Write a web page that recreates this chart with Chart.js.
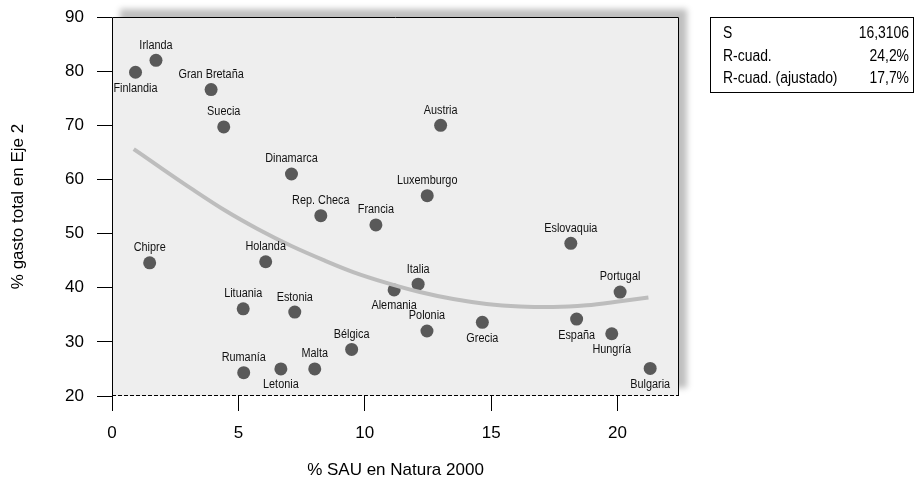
<!DOCTYPE html>
<html>
<head>
<meta charset="utf-8">
<script src="https://cdn.jsdelivr.net/npm/chart.js@4"></script>
<style>
  body { margin: 0; background: #fff; }
  canvas { display: block; }
</style>
</head>
<body>
<canvas id="chart" width="917" height="485"></canvas>
<script>
// datos: % SAU en Natura 2000 (x) y % gasto total en Eje 2 (y)
const countries = ["Finlandia", "Irlanda", "Gran Bretaña", "Suecia", "Dinamarca", "Austria",
  "Luxemburgo", "Rep. Checa", "Francia", "Eslovaquia", "Chipre", "Holanda", "Italia",
  "Alemania", "Portugal", "Lituania", "Estonia", "España", "Grecia", "Polonia", "Hungría",
  "Bélgica", "Bulgaria", "Rumanía", "Letonia", "Malta"];
const sauNatura = [0.93, 1.74, 3.92, 4.42, 7.1, 13.0, 12.47, 8.26, 10.44, 18.15, 1.49, 6.08, 12.11,
  11.16, 20.1, 5.19, 7.23, 18.38, 14.65, 12.46, 19.77, 9.48, 21.29, 5.21, 6.68, 8.02];
const gastoEje2 = [79.8, 82.0, 76.6, 69.7, 61.0, 70.0, 57.0, 53.3, 51.6, 48.2, 44.6, 44.8, 40.65,
  39.6, 39.2, 36.1, 35.5, 34.2, 33.6, 32.0, 31.5, 28.6, 25.1, 24.3, 25.0, 25.0];
// nombres que van debajo del punto
const labelBelow = ["Finlandia", "Alemania", "España", "Grecia", "Hungría", "Bulgaria", "Letonia"];

// curva de ajuste
const fitX = [0.86, 1.82, 3.14, 4.46, 5.78, 7.1, 8.42, 9.54, 10.86, 12.18, 13.5, 14.82, 16.14, 17.46, 18.78, 20.1, 21.22];
const fitY = [65.6, 62.5, 58.3, 54.3, 50.8, 47.7, 45.0, 42.9, 40.9, 39.2, 37.9, 37.0, 36.55, 36.45, 36.75, 37.5, 38.2];

const xTicks = [0, 5, 10, 15, 20];
const yTicks = [20, 30, 40, 50, 60, 70, 80, 90];

const statNames = ["S", "R-cuad.", "R-cuad. (ajustado)"];
const statValues = ["16,3106", "24,2%", "17,7%"];

const FONT = "'Liberation Sans', Arial, sans-serif";
const NARROW = 0.87; // el original usa una letra estrecha

function narrowText(ctx, text, x, y) {
  ctx.save();
  ctx.scale(NARROW, 1);
  ctx.fillText(text, x / NARROW, y);
  ctx.restore();
}

const plotBox = {
  id: "plotBox",
  beforeDraw(chart) {
    const { ctx, chartArea: a } = chart;
    ctx.save();
    ctx.fillStyle = "#fff";
    ctx.fillRect(0, 0, chart.width, chart.height);
    ctx.shadowColor = "rgba(0,0,0,0.25)";
    ctx.shadowBlur = 6;
    ctx.shadowOffsetX = 8;
    ctx.shadowOffsetY = -8;
    ctx.fillStyle = "#eeeeee";
    ctx.fillRect(a.left, a.top, a.right - a.left, a.bottom - a.top);
    ctx.restore();
  },
  beforeDatasetsDraw(chart) {
    const { ctx, chartArea: a } = chart;
    ctx.save();
    ctx.strokeStyle = "#000";
    ctx.lineWidth = 1;
    ctx.beginPath();
    ctx.moveTo(a.left + 0.5, a.bottom);
    ctx.lineTo(a.left + 0.5, a.top + 0.5);
    ctx.lineTo(a.right - 0.5, a.top + 0.5);
    ctx.lineTo(a.right - 0.5, a.bottom);
    ctx.stroke();
    ctx.setLineDash([4, 2]);
    ctx.beginPath();
    ctx.moveTo(a.left, a.bottom - 0.5);
    ctx.lineTo(a.right, a.bottom - 0.5);
    ctx.stroke();
    ctx.restore();
  },
  afterDatasetsDraw(chart) {
    const { ctx } = chart;
    const meta = chart.getDatasetMeta(1);
    ctx.save();
    ctx.font = "12.5px " + FONT;
    ctx.fillStyle = "#111";
    ctx.textAlign = "center";
    ctx.textBaseline = "middle";
    meta.data.forEach((pt, i) => {
      const name = countries[i];
      const dy = labelBelow.includes(name) ? 16 : -15;
      narrowText(ctx, name, pt.x, pt.y + dy);
    });
    ctx.restore();
  },
  afterDraw(chart) {
    const { ctx } = chart;
    ctx.save();
    ctx.strokeStyle = "#000";
    ctx.lineWidth = 1;
    ctx.strokeRect(710.5, 17.5, 203, 75);
    ctx.font = "16px " + FONT;
    ctx.fillStyle = "#000";
    ctx.textBaseline = "middle";
    statNames.forEach((s, i) => {
      const y = 34 + i * 22.5;
      ctx.textAlign = "left";
      narrowText(ctx, s, 723, y);
      ctx.textAlign = "right";
      narrowText(ctx, statValues[i], 909, y);
    });
    ctx.restore();
  }
};

const tickGrid = { drawOnChartArea: false, drawTicks: true, tickLength: 15, color: "#000", lineWidth: 1 };

new Chart(document.getElementById("chart").getContext("2d"), {
  type: "scatter",
  data: {
    datasets: [
      {
        type: "line",
        label: "ajuste",
        data: fitX.map((x, i) => ({ x, y: fitY[i] })),
        borderColor: "#bdbdbd",
        borderWidth: 4,
        pointRadius: 0,
        cubicInterpolationMode: "monotone",
        fill: false,
      },
      {
        label: "países",
        data: sauNatura.map((x, i) => ({ x, y: gastoEje2[i] })),
        backgroundColor: "#595959",
        borderWidth: 0,
        pointRadius: 6.5,
      },
    ],
  },
  options: {
    responsive: false,
    animation: false,
    devicePixelRatio: 1,
    layout: { autoPadding: false, padding: { left: 0, top: 17, right: 238, bottom: 0 } },
    plugins: { legend: { display: false }, tooltip: { enabled: false } },
    scales: {
      x: {
        type: "linear",
        min: 0,
        max: 22.43,
        afterFit: (s) => { s.height = 89; s.paddingLeft = 0; s.paddingRight = 0; },
        afterBuildTicks: (s) => { s.ticks = xTicks.map((v) => ({ value: v })); },
        grid: tickGrid,
        border: { display: false },
        ticks: { color: "#000", padding: 12, font: { family: FONT, size: 17 } },
        title: { display: true, text: "% SAU en Natura 2000", color: "#000", padding: { bottom: 4 }, font: { family: FONT, size: 17 } },
      },
      y: {
        min: 20,
        max: 90,
        afterFit: (s) => { s.width = 112; s.paddingTop = 0; s.paddingBottom = 0; },
        afterBuildTicks: (s) => { s.ticks = yTicks.map((v) => ({ value: v })); },
        grid: tickGrid,
        border: { display: false },
        ticks: { color: "#000", padding: 13, font: { family: FONT, size: 17 } },
        title: { display: true, text: "% gasto total en Eje 2", color: "#000", padding: { top: 8 }, font: { family: FONT, size: 17 } },
      },
    },
  },
  plugins: [plotBox],
});
</script>
</body>
</html>
